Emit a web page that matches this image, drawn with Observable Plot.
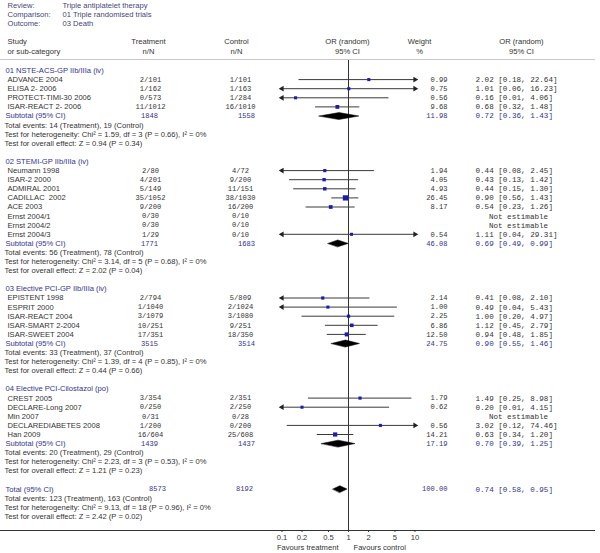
<!DOCTYPE html>
<html><head><meta charset="utf-8">
<script src="https://cdn.jsdelivr.net/npm/d3@7"></script>
<script src="https://cdn.jsdelivr.net/npm/@observablehq/plot@0.6"></script>
<style>body{margin:0;background:#fff} #chart svg{display:block}</style>
</head><body><div id="chart"></div><script>
// ---------- data ----------
const reviewLabels = ["Review:", "Comparison:", "Outcome:"];
const reviewValues = ["Triple antiplatelet therapy", "01 Triple randomised trials", "03 Death"];
const groups = ["01 NSTE-ACS-GP IIb/IIIa (iv)", "02 STEMI-GP IIb/IIIa (iv)", "03 Elective PCI-GP IIb/IIIa (iv)", "04 Elective PCI-Cilostazol (po)"];
const studies = ["ADVANCE 2004","ELISA 2- 2006","PROTECT-TIMI-30 2006","ISAR-REACT 2- 2006",
  "Neumann 1998","ISAR-2 2000","ADMIRAL 2001","CADILLAC  2002","ACE 2003","Ernst 2004/1","Ernst 2004/2","Ernst 2004/3",
  "EPISTENT 1998","ESPRIT 2000","ISAR-REACT 2004","ISAR-SMART 2-2004","ISAR-SWEET 2004",
  "CREST 2005","DECLARE-Long 2007","Min 2007","DECLAREDIABETES 2008","Han 2009"];
const studyGroup = [0,0,0,0, 1,1,1,1,1,1,1,1, 2,2,2,2,2, 3,3,3,3,3];
const treatNN = ["2/101","1/162","0/573","11/1012","2/80","4/201","5/149","35/1052","9/200","0/30","0/30","1/29",
  "2/794","1/1040","3/1079","10/251","17/351","3/354","0/250","0/31","1/200","16/604"];
const ctrlNN = ["1/101","1/163","1/284","16/1010","4/72","9/200","11/151","38/1030","16/200","0/10","0/10","0/10",
  "5/809","2/1024","3/1080","9/251","18/350","2/351","2/250","0/28","0/200","25/608"];
const orEst = [2.02,1.01,0.16,0.68,0.44,0.43,0.44,0.90,0.54,null,null,1.11,0.41,0.49,1.00,1.12,0.94,1.49,0.20,null,3.02,0.63];
const orLo  = [0.18,0.06,0.01,0.32,0.08,0.13,0.15,0.56,0.23,null,null,0.04,0.08,0.04,0.20,0.45,0.48,0.25,0.01,null,0.12,0.34];
const orHi  = [22.64,16.23,4.06,1.48,2.45,1.42,1.30,1.43,1.26,null,null,29.31,2.10,5.43,4.97,2.79,1.85,8.98,4.15,null,74.46,1.20];
const weights = [0.99,0.75,0.56,9.68,1.94,4.05,4.93,26.45,8.17,null,null,0.54,2.14,1.00,2.25,6.86,12.50,1.79,0.62,null,0.56,14.21];

const subTreat = [1848, 1771, 3515, 1439];
const subCtrl = [1558, 1683, 3514, 1437];
const subWeight = [11.98, 46.08, 24.75, 17.19];
const subOR = [0.72, 0.69, 0.90, 0.70];
const subLo = [0.36, 0.49, 0.55, 0.39];
const subHi = [1.43, 0.99, 1.46, 1.25];
const evTreat = [14, 56, 33, 20];
const evCtrl = [19, 78, 37, 29];
const hetChi = ["1.59", "3.14", "1.39", "2.23"];
const hetDf = [3, 5, 4, 3];
const hetP = ["0.66", "0.68", "0.85", "0.53"];
const hetI2 = [0, 0, 0, 0];
const zVal = ["0.94", "2.02", "0.44", "1.21"];
const zP = ["0.34", "0.04", "0.66", "0.23"];

const totTreat = 8573, totCtrl = 8192, totWeight = 100.00;
const totOR = 0.74, totLo = 0.58, totHi = 0.95;
const totEvT = 123, totEvC = 163;
const totChi = "9.13", totDf = 18, totHetP = "0.96", totI2 = 0;
const totZ = "2.42", totZP = "0.02";

const axisTicks = [0.1, 0.2, 0.5, 1, 2, 5, 10];
const favours = ["Favours treatment", "Favours control"];

// ---------- layout ----------
const W = 600, H = 553, ML = 281.5, MR = 185.5, MT = 60, MB = 23;
const ROW0 = 70, ROWH = 9.1;
const rowOf = px => (px - ROW0) / ROWH;
const BLUE = "#33338f", TXT = "#333333", HEAD = "#45457a";
const SANS = "Liberation Sans, Arial, sans-serif", MONO = "Liberation Mono, Courier New, monospace";
const fmt2 = v => v.toFixed(2);
const orText = (e, l, h) => `${fmt2(e)} [${fmt2(l)}, ${fmt2(h)}]`;

const items = [];   // text items
const ci = [];      // study CI rows
const diamonds = [];
// size: 0 = sans, 1 = small mono, 2 = wide mono
const add = (row, text, px, anchor, kind, color) => items.push({row, text, px, anchor, kind, color});

// header
reviewLabels.forEach((t, k) => {
  add(rowOf(5 + 9 * k), t, 7, "start", 0, HEAD);
  add(rowOf(5 + 9 * k), reviewValues[k], 62, "start", 0, HEAD);
});
[["Study", "or sub-category", 7, "start"], ["Treatment", "n/N", 148, "middle"], ["Control", "n/N", 236, "middle"],
 ["OR (random)", "95% CI", 347, "middle"], ["Weight", "%", 419, "middle"], ["OR (random)", "95% CI", 521, "middle"]]
  .forEach(([a, b, px, an]) => { add(rowOf(41), a, px, an, 0, TXT); add(rowOf(51), b, px, an, 0, TXT); });

function addDiamond(id, row, est, lo, hi) {
  const h = 0.38;
  diamonds.push({id, x: lo, y: row}, {id, x: est, y: row - h}, {id, x: hi, y: row}, {id, x: est, y: row + h});
}

let r = 0;
groups.forEach((gname, g) => {
  add(r, gname, 5, "start", 0, BLUE);
  studies.forEach((s, i) => {
    if (studyGroup[i] !== g) return;
    r++;
    add(r, s, 7, "start", 0, TXT);
    add(r, treatNN[i], 150, "middle", 1, TXT);
    add(r, ctrlNN[i], 240, "middle", 1, TXT);
    if (weights[i] == null) {
      add(r, "Not estimable", 518, "middle", 2, TXT);
    } else {
      add(r, fmt2(weights[i]), 447, "end", 1, TXT);
      add(r, orText(orEst[i], orLo[i], orHi[i]), 475, "start", 2, TXT);
      ci.push({row: r, est: orEst[i], lo: orLo[i], hi: orHi[i], w: weights[i]});
    }
  });
  r++;
  add(r, "Subtotal (95% CI)", 5, "start", 0, BLUE);
  add(r, String(subTreat[g]), 149, "middle", 1, BLUE);
  add(r, String(subCtrl[g]), 246, "middle", 1, BLUE);
  add(r, fmt2(subWeight[g]), 447, "end", 1, BLUE);
  add(r, orText(subOR[g], subLo[g], subHi[g]), 475, "start", 2, BLUE);
  addDiamond("g" + g, r, subOR[g], subLo[g], subHi[g]);
  r++; add(r, `Total events: ${evTreat[g]} (Treatment), ${evCtrl[g]} (Control)`, 4, "start", 0, TXT);
  r++; add(r, `Test for heterogeneity: Chi² = ${hetChi[g]}, df = ${hetDf[g]} (P = ${hetP[g]}), I² = ${hetI2[g]}%`, 4, "start", 0, TXT);
  r++; add(r, `Test for overall effect: Z = ${zVal[g]} (P = ${zP[g]})`, 4, "start", 0, TXT);
  r += 2;
});
add(r, "Total (95% CI)", 5, "start", 0, BLUE);
add(r, String(totTreat), 157, "middle", 1, BLUE);
add(r, String(totCtrl), 244, "middle", 1, BLUE);
add(r, totWeight.toFixed(2), 447, "end", 1, BLUE);
add(r, orText(totOR, totLo, totHi), 475, "start", 2, BLUE);
addDiamond("tot", r, totOR, totLo, totHi);
r++; add(r, `Total events: ${totEvT} (Treatment), ${totEvC} (Control)`, 4, "start", 0, TXT);
r++; add(r, `Test for heterogeneity: Chi² = ${totChi}, df = ${totDf} (P = ${totHetP}), I² = ${totI2}%`, 4, "start", 0, TXT);
r++; add(r, `Test for overall effect: Z = ${totZ} (P = ${totZP})`, 4, "start", 0, TXT);
add(rowOf(547), favours[0], 338, "end", 0, TXT);
add(rowOf(547), favours[1], 353, "start", 0, TXT);

// arrows for clipped CIs
const [xMin, xMax] = [axisTicks[0], axisTicks[axisTicks.length - 1]];
const arrows = [];
ci.forEach(d => {
  if (d.lo < xMin) arrows.push({row: d.row, x: xMin, rot: -90});
  if (d.hi > xMax) arrows.push({row: d.row, x: xMax, rot: 90});
});

// group text items into marks by column style
const fonts = [[SANS, 7.6], [MONO, 7.1], [MONO, 7.6]];
const keyOf = d => `${d.px}|${d.anchor}|${d.kind}`;
const textMarks = Array.from(d3.group(items, keyOf).values()).map(arr => {
  const {px, anchor, kind} = arr[0];
  return Plot.text(arr, {
    y: "row", text: "text", fill: "color",
    frameAnchor: "left", dx: px - ML, textAnchor: anchor,
    fontFamily: fonts[kind][0], fontSize: fonts[kind][1]
  });
});

const chart = Plot.plot({
  width: W, height: H,
  marginLeft: ML, marginRight: MR, marginTop: MT, marginBottom: MB,
  style: {fontFamily: SANS, fontSize: "7.6px", color: TXT, background: "#fff"},
  x: {type: "log", domain: [xMin, xMax], clamp: true, label: null},
  y: {domain: [rowOf(0), rowOf(H)], range: [0, H], axis: null},
  r: {type: "linear", domain: [0, 27], range: [1.7, 3.0]},
  marks: [
    Plot.ruleY([rowOf(59)], {stroke: "#c8c8c8", insetLeft: -ML, insetRight: -(MR - 5)}),
    Plot.ruleY([rowOf(530)], {stroke: "#333", insetLeft: -ML, insetRight: -(MR - 5)}),
    Plot.ruleX([1], {stroke: "#333"}),
    Plot.ruleY(ci, {y: "row", x1: "lo", x2: "hi", stroke: "#3a3a3a", strokeWidth: 1}),
    Plot.dot(arrows, {x: "x", y: "row", symbol: "triangle", rotate: "rot", r: 2.1, fill: "#222", stroke: null}),
    Plot.dot(ci, {x: "est", y: "row", symbol: "square", r: "w", fill: "#1c1cb4", stroke: null}),
    Plot.line(diamonds, {x: "x", y: "y", z: "id", curve: "linear-closed", fill: "#000", stroke: "#000", strokeWidth: 0.5}),
    Plot.axisX({ticks: axisTicks, tickFormat: d => String(d), tickSize: 2, tickPadding: 2, label: null, fontSize: 7.6, stroke: "#333"}),
    ...textMarks
  ]
});
document.getElementById("chart").append(chart);
</script></body></html>
